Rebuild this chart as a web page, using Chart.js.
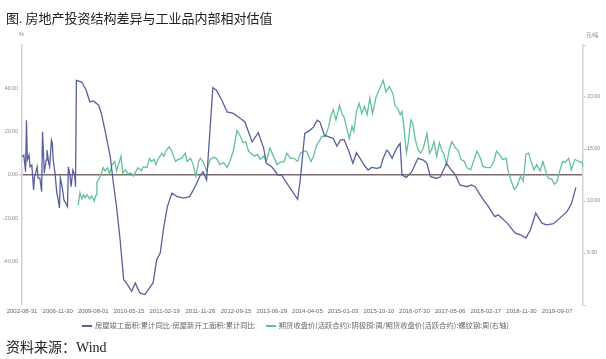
<!DOCTYPE html>
<html>
<head>
<meta charset="utf-8">
<script src="https://cdn.jsdelivr.net/npm/chart.js@4.4.1/dist/chart.umd.min.js"></script>
<style>
  html,body{margin:0;padding:0;background:#fff;width:606px;height:359px;overflow:hidden;}
  #wrap{position:absolute;left:0;top:0;width:606px;height:359px;}
  canvas{position:absolute;left:0;top:0;}
  .t{position:absolute;white-space:nowrap;}
  #title{left:6px;top:8px;font-family:"Liberation Serif","Noto Sans CJK SC";font-size:13px;color:#222;}
  #src{left:6px;top:336px;font-family:"Liberation Serif","Noto Sans CJK SC";font-size:14px;color:#222;}
  #unitL{left:19px;top:31px;font-family:"Liberation Sans","Noto Sans CJK SC";font-size:5.5px;color:#888;}
  #unitR{left:586px;top:31px;font-family:"Liberation Sans","Noto Sans CJK SC";font-size:5.5px;color:#888;}
  #legend{left:82px;top:320px;font-family:"Noto Sans CJK SC";font-size:7.3px;color:#666;line-height:10px;}
  #legend .mk{display:inline-block;width:10px;height:1.5px;vertical-align:middle;margin-right:3px;}
  #legend .it{display:inline-block;margin-right:11px;}
</style>
</head>
<body>
<div id="wrap">
  <canvas id="c" width="606" height="359"></canvas>
  <div class="t" id="title">图. 房地产投资结构差异与工业品内部相对估值</div>
  <div class="t" id="unitL">%</div>
  <div class="t" id="unitR">元/吨</div>
  <div class="t" id="legend"></div>
  <div class="t" id="src">资料来源：Wind</div>
</div>
<script>
// ---- data (category index positions: one label every 40 periods) ----
const xLabels = ["2002-08-31","2006-11-30","2009-08-01","2010-05-15","2011-02-19","2011-11-26","2012-09-15","2013-06-29","2014-04-05","2015-01-03","2015-10-10","2016-07-30","2017-05-06","2018-02-17","2018-11-30","2019-09-07"];

const seriesNames = ["房屋竣工面积:累计同比-房屋新开工面积:累计同比","期货收盘价(活跃合约):阴极铜:周/期货收盘价(活跃合约):螺纹钢:周(右轴)"];

const blueX = [0,2,4,5,6,8,9,11,13,14,17,18,20,22,23,25,27,28,30,31,33,34,35,37,39,40,42,43,45,47,49,51,52,54,55,57,59,60,61,63,67,72,76,80,86,89,93,99,102,106,110,114,117,123,127,132,138,144,147,151,155,159,163,168,174,181,188,194,200,203,207,214,218,224,230,237,245,250,258,265,271,274,280,287,291,297,302,309,312,317,323,327,331,334,339,344,349,353,357,361,366,371,375,379,385,388,392,398,402,405,409,411,415,420,424,426,431,437,444,450,454,458,465,469,476,480,486,491,499,504,508,516,523,530,534,544,553,559,565,570,576,583,588,596,603,611,616,621];
const blueY = [8.4,9.2,1.5,25.3,6.9,9.2,3.8,4.6,-6.9,-0.8,3.8,-1.4,-1.4,-7.7,19.9,0.8,6.9,11.5,5.5,3.8,16.1,14.7,6.9,0.9,-8.3,-10,-15.2,-1.4,-5.4,-11.5,-12.9,-14.6,3.8,-0.8,-5.4,2.3,0,-5.4,43.7,43.4,42.9,39.1,33.7,34.2,32.2,28.4,20.7,8.4,-2.3,-14.6,-29.9,-48.3,-49.8,-53.7,-49.8,-54.4,-55.2,-51.4,-49.8,-39.1,-36,-23.8,-14.6,-8.4,-10,-10.7,-10,-5.4,0,1.5,-2.3,40.3,39.1,34.5,29.1,28.4,26.1,24.5,15.3,19.5,12.3,5.4,3.8,0,0,-3.8,-6.9,-11.2,-2.3,19.2,20.7,22.2,25.3,24.5,18.4,17.6,16.9,13.3,16.1,16.4,11.5,5.4,10.3,7.7,3.8,2.3,3.5,3.1,3.5,7.7,11.5,10.7,7.7,12.3,14.6,0,-1.1,1.5,7.7,6.9,5.4,-0.8,-1.5,-0.8,5.4,3.1,0,-4.6,-5.4,-4.6,-5.4,-10.7,-14.6,-19.2,-18.4,-22.2,-26.8,-27.6,-29.1,-25.3,-17.6,-22.2,-23,-22.5,-19.9,-16.9,-13.3,-5.7];

const greenX = [63,65,67,69,71,73,76,78,81,83,84,88,91,93,96,98,101,104,106,111,113,116,119,122,125,128,130,134,136,140,143,145,148,150,153,157,159,162,165,168,172,175,179,183,185,189,192,195,198,200,203,207,211,215,218,222,226,230,233,237,241,245,248,251,254,258,261,264,267,271,274,278,281,286,289,294,297,301,305,309,312,316,319,324,327,330,333,336,340,344,346,349,352,356,359,361,364,367,370,372,375,378,381,384,387,390,393,397,401,405,408,412,416,418,422,424,426,428,431,433,436,438,441,444,447,450,454,457,459,462,465,468,471,473,476,479,482,486,489,492,496,499,503,507,510,514,517,521,525,529,532,535,539,543,545,549,552,555,559,562,565,568,570,574,577,581,584,587,590,594,597,600,603,606,609,613,616,620,624,628,629];
const greenY = [9.6,10.8,10.2,10.6,10.3,10.6,10.2,10.5,10.0,10.6,11.8,12.4,13.2,12.9,13.2,12.6,13.5,13.8,12.9,14.3,12.7,13.0,12.6,12.7,12.4,12.9,13.2,12.9,13.3,13.2,14.1,13.8,14.0,13.5,14.1,14.6,14.3,14.9,15.2,14.8,13.8,14.0,14.1,14.6,13.8,14.1,13.5,12.4,13.8,14.1,13.8,12.9,14.0,14.2,14.1,13.5,13.7,13.2,13.8,14.8,16.8,16.2,15.6,15.7,14.8,14.5,14.3,14.5,14.0,14.3,13.8,15.1,14.5,13.5,13.7,13.8,14.6,14.1,14.1,13.8,14.6,14.8,14.8,13.8,14.3,15.3,15.7,16.2,16.2,17.2,18.1,18.8,17.8,19.2,18.3,18.1,17.0,16.0,17.2,16.7,18.6,19.4,18.4,19.1,18.3,19.9,18.4,20.0,20.8,21.6,20.5,21.0,20.3,19.2,18.8,18.3,18.6,17.3,14.6,15.6,17.8,17.5,15.9,14.9,14.6,15.1,16.5,14.6,14.9,15.7,14.3,15.6,14.8,14.5,13.5,14.9,15.7,15.1,14.9,14.0,13.8,13.2,13.0,14.0,14.8,14.1,13.3,13.2,13.2,13.8,14.8,14.5,14.0,14.1,12.9,11.8,11.1,11.4,12.4,11.9,14.5,14.6,14.0,13.0,13.5,12.9,13.8,12.9,12.2,12.1,11.6,11.9,12.9,13.8,13.7,14.1,13.0,14.0,13.8,13.7,13.2];

const leftTicks = {min:-60, max:60, step:20};
const rightTicks = {min:0, max:25, step:5};

// ---- styles ----
const BLUE = '#5a5f9d';
const GREEN = '#62c09f';

const lg = document.getElementById('legend');
[[BLUE, seriesNames[0]],[GREEN, seriesNames[1]]].forEach(([c,n])=>{
  const s=document.createElement('span'); s.className='it';
  s.innerHTML='<span class="mk" style="background:'+c+'"></span>'+n;
  lg.appendChild(s);
});

const pts = (xs, ys) => xs.map((x,i)=>({x:x, y:ys[i]}));
const tickFont = {family:'"Liberation Sans", Arial, sans-serif', size:5.3};

new Chart(document.getElementById('c'), {
  type:'line',
  data:{datasets:[
    {label:seriesNames[0], data:pts(blueX,blueY), yAxisID:'yL', borderColor:BLUE, borderWidth:1.3, pointRadius:0, tension:0},
    {label:seriesNames[1], data:pts(greenX,greenY), yAxisID:'yR', borderColor:GREEN, borderWidth:1.3, pointRadius:0, tension:0}
  ]},
  options:{
    responsive:false, animation:false, devicePixelRatio:1,
    layout:{padding:{top:45, bottom:42, left:0, right:0}},
    plugins:{legend:{display:false}, tooltip:{enabled:false}},
    scales:{
      x:{type:'linear', min:0, max:629,
        afterBuildTicks:(s)=>{ s.ticks = xLabels.map((_,i)=>({value:i*40})); },
        afterFit:(s)=>{ s.height = 12; },
        grid:{display:false, drawTicks:false}, border:{display:false},
        ticks:{autoSkip:false, maxRotation:0, padding:3, color:'#666', font:{family:'"Liberation Sans", Arial, sans-serif', size:6},
          callback:(v)=> xLabels[Math.round(v/40)] ?? ''}
      },
      yL:{position:'left', min:leftTicks.min, max:leftTicks.max,
        afterFit:(s)=>{ s.width = 22; },
        border:{display:true, color:'#d2d2d2', width:1.5},
        grid:{drawOnChartArea:true, tickLength:3, tickColor:'#cccccc',
          color:(c)=> (c.tick && c.tick.value===0) ? '#7a6c6c' : 'rgba(0,0,0,0)',
          lineWidth:(c)=> (c.tick && c.tick.value===0) ? 1.5 : 0},
        ticks:{stepSize:leftTicks.step, padding:1, color:'#888', font:tickFont,
          callback:(v)=> (v===leftTicks.min||v===leftTicks.max) ? '' : v.toFixed(2)}
      },
      yR:{position:'right', min:rightTicks.min, max:rightTicks.max,
        afterFit:(s)=>{ s.width = 23; },
        border:{display:true, color:'#d2d2d2', width:1.5},
        grid:{drawOnChartArea:false, tickLength:3, tickColor:'#cccccc'},
        ticks:{stepSize:rightTicks.step, padding:1, color:'#888', font:tickFont,
          callback:(v)=> (v===rightTicks.min||v===rightTicks.max) ? '' : v.toFixed(2)}
      }
    }
  }
});
</script>
</body>
</html>
